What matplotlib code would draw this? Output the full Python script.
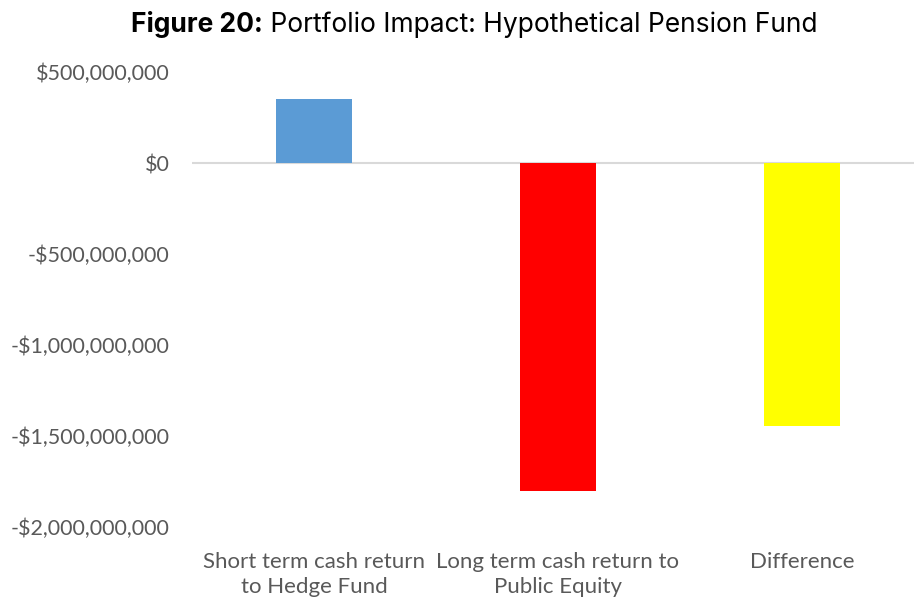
import matplotlib.pyplot as plt
import matplotlib.ticker as mticker
from matplotlib.offsetbox import AnchoredOffsetbox, TextArea, HPacker

# data
categories = ['Short term cash return\nto Hedge Fund',
              'Long term cash return to\nPublic Equity',
              'Difference']
values = [352e6, -1.80e9, -1.445e9]
colors = ['#5b9bd5', '#ff0000', '#ffff00']
yticks = [500e6, 0, -500e6, -1000e6, -1500e6, -2000e6]

fig = plt.figure(figsize=(9.14, 5.98), dpi=100)
ax = fig.add_axes([192/914, 1 - 527/598, 732/914, 455/598])

x = range(len(categories))
ax.bar(x, values, width=0.315, color=colors, zorder=2)
ax.axhline(0, color='#d9d9d9', lw=1.5, zorder=1)

ax.set_xlim(-0.5, 2.5)
ax.set_ylim(-2000e6, 500e6)
ax.set_yticks(yticks)
ax.yaxis.set_major_formatter(mticker.FuncFormatter(
    lambda v, p: ('-' if v < 0 else '') + '${:,.0f}'.format(abs(v))))
ax.set_xticks(list(x))
ax.set_xticklabels(categories, fontsize=16, family='Lato', color='#595959',
                   linespacing=1.3)
for lab in ax.get_yticklabels():
    lab.set_fontsize(15.5)
    lab.set_family('Lato')
    lab.set_color('#595959')
ax.tick_params(length=0)
ax.tick_params(axis='y', pad=16)
ax.tick_params(axis='x', pad=18)
for s in ax.spines.values():
    s.set_visible(False)

# title: bold prefix + regular text
t1 = TextArea('Figure 20:', textprops=dict(fontsize=19, fontweight='bold',
                                           family='Inter', color='black'))
t2 = TextArea(' Portfolio Impact: Hypothetical Pension Fund',
              textprops=dict(fontsize=19, family='Inter', color='black'))
box = HPacker(children=[t1, t2], align='baseline', pad=0, sep=0)
fig.add_artist(AnchoredOffsetbox(loc='center', child=box, pad=0, frameon=False,
                                 bbox_to_anchor=(474/914, 1 - 24/598),
                                 bbox_transform=fig.transFigure))

fig.savefig('out.png', dpi=100)
